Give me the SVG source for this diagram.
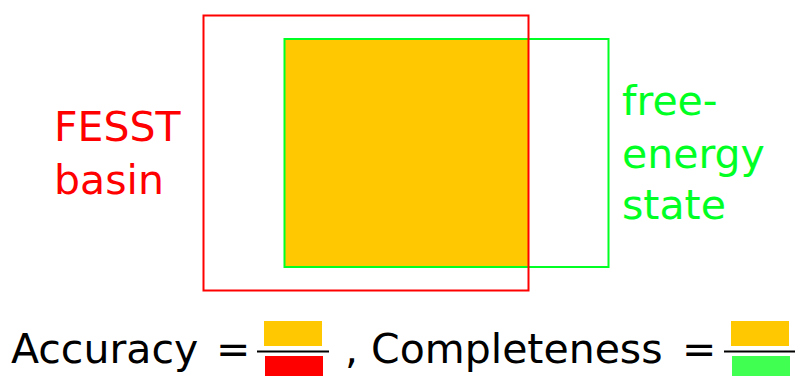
<svg xmlns="http://www.w3.org/2000/svg" width="795" height="376" viewBox="0 0 795 376">
<style>
.t{font-family:"DejaVu Sans",sans-serif;font-size:41px}
.red{fill:#ff0000}
.grn{fill:#00ff22}
.blk{fill:#000000}
</style>
<rect width="795" height="376" fill="#ffffff"/>
<g id="overlap">
<rect x="284" y="39" width="244" height="227" fill="#ffc800"/>
</g>
<g id="free-energy-state">
<rect x="284.5" y="39" width="324" height="228" fill="none" stroke="#00ff22" stroke-width="2"/>
<text class="t grn" x="622" y="115">free-</text>
<text class="t grn" x="622" y="168">energy</text>
<text class="t grn" x="622" y="219">state</text>
</g>
<g id="fesst-basin">
<rect x="203.5" y="15.5" width="325" height="275" fill="none" stroke="#ff0000" stroke-width="2"/>
<text class="t red" x="54" y="141">FESST</text>
<text class="t red" x="54" y="194">basin</text>
</g>
<g id="formula">
<text class="t blk" x="11" y="363">Accuracy</text>
<text class="t blk" x="216" y="363">=</text>
<rect x="264" y="321" width="58" height="25" fill="#ffc800"/>
<line x1="257" y1="351.5" x2="329" y2="351.5" stroke="#000" stroke-width="2"/>
<rect x="265" y="356" width="58" height="20" fill="#ff0000"/>
<text class="t blk" x="345" y="363">, Completeness</text>
<text class="t blk" x="682" y="363">=</text>
<rect x="731" y="321" width="58" height="25" fill="#ffc800"/>
<line x1="724" y1="351.5" x2="795" y2="351.5" stroke="#000" stroke-width="2"/>
<rect x="732" y="356" width="58" height="20" fill="#40ff50"/>
</g>
</svg>
